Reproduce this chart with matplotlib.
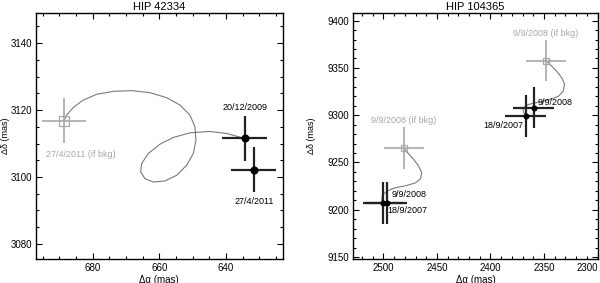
import matplotlib
matplotlib.use("Agg")
import matplotlib.pyplot as plt
from matplotlib.ticker import MultipleLocator

plt.rcParams['font.family'] = ['Liberation Sans', 'DejaVu Sans']

# HIP 42334
l_titre = "HIP 42334"
l_obs_dates = ["20/12/2009", "27/4/2011"]
l_obs_ra = [634.3, 631.6]
l_obs_dec = [3111.5, 3102.2]
l_obs_err_ra = [6.75, 6.75]
l_obs_err_dec = [6.75, 6.75]
l_bkg_date = "27/4/2011 (if bkg)"
l_bkg_ra = 688.6
l_bkg_dec = 3116.8
l_bkg_err_ra = 6.6
l_bkg_err_dec = 6.75
l_track_ra = [634.3, 639.8, 644.8, 650.8, 655.8, 659.8, 663.3, 665.3, 665.6, 664.3,
              661.8, 658.3, 654.8, 651.8, 649.8, 649.0, 649.3, 650.8, 653.8, 657.8,
              662.8, 668.3, 673.8, 678.8, 682.8, 685.8, 687.8, 688.6]
l_track_dec = [3111.5, 3113.0, 3113.6, 3113.2, 3111.8, 3109.8, 3107.0, 3104.0, 3101.5, 3099.5,
               3098.5, 3098.8, 3100.5, 3103.5, 3107.0, 3111.0, 3115.0, 3118.5, 3121.5, 3123.7,
               3125.2, 3125.8, 3125.6, 3124.7, 3123.0, 3120.8, 3118.5, 3116.8]

# HIP 104365 (deux candidats)
r_titre = "HIP 104365"
r_obs_dates = ["18/9/2007", "9/9/2008", "18/9/2007", "9/9/2008"]
r_obs_ra = [2500.3, 2497.0, 2367.0, 2359.6]
r_obs_dec = [9206.9, 9207.2, 9299.4, 9308.1]
r_obs_err_ra = [19.0, 19.0, 19.0, 19.0]
r_obs_err_dec = [22.0, 22.0, 22.0, 22.0]
r_bkg_dates = ["9/9/2008 (if bkg)", "9/9/2008 (if bkg)"]
r_bkg_ra = [2481.1, 2348.1]
r_bkg_dec = [9265.6, 9357.7]
r_bkg_err_ra = [18.7, 18.7]
r_bkg_err_dec = [22.0, 22.0]
r_track1_ra = [2500.3, 2501.5, 2501.2, 2496.8, 2489.1, 2478.8, 2469.9, 2465.3, 2464.3,
               2467.1, 2471.8, 2477.4, 2481.1]
r_track1_dec = [9206.9, 9210.3, 9214.6, 9219.8, 9223.2, 9225.5, 9228.5, 9232.9, 9239.2,
                9246.2, 9253.3, 9260.3, 9265.6]
r_track2_ra = [2367.0, 2369.3, 2369.3, 2364.6, 2355.3, 2344.3, 2336.6, 2332.2, 2330.8,
               2333.4, 2338.1, 2344.3, 2348.1]
r_track2_dec = [9299.4, 9303.2, 9307.8, 9311.3, 9313.7, 9316.6, 9320.0, 9325.3, 9332.4,
                9339.5, 9346.4, 9353.5, 9357.7]

GRIS_TRACE = "#7a7a7a"
GRIS_BKG = "#a8a8a8"
PT = 0.72  # 1 pixel en points (dpi 100)


def style_axes(ax, xmaj, xmin, ymaj, ymin, ypad):
    ax.xaxis.set_major_locator(MultipleLocator(xmaj))
    ax.xaxis.set_minor_locator(MultipleLocator(xmin))
    ax.yaxis.set_major_locator(MultipleLocator(ymaj))
    ax.yaxis.set_minor_locator(MultipleLocator(ymin))
    ax.tick_params(which='both', direction='in', top=True, right=True, labelsize=7, pad=3)
    ax.tick_params(which='major', length=4, width=0.8)
    ax.tick_params(which='minor', length=2.5, width=0.8)
    for s in ax.spines.values():
        s.set_linewidth(1.0)
    ax.set_xlabel("Δα (mas)", fontsize=7, labelpad=1)
    ax.set_ylabel("Δδ (mas)", fontsize=6.5, labelpad=ypad)


fig = plt.figure(figsize=(6.0, 2.83), dpi=100)

# ---- panneau gauche
ax1 = fig.add_axes([0.06, 0.085, 0.411, 0.869])
ax1.plot(l_track_ra, l_track_dec, color=GRIS_TRACE, lw=0.8)
ax1.errorbar([l_bkg_ra], [l_bkg_dec], xerr=[l_bkg_err_ra], yerr=[l_bkg_err_dec],
             fmt='s', ms=7.5, mfc='none', mec=GRIS_BKG, mew=0.9,
             ecolor=GRIS_BKG, elinewidth=1.2, capsize=0)
ax1.errorbar(l_obs_ra, l_obs_dec, xerr=l_obs_err_ra, yerr=l_obs_err_dec,
             fmt='o', ms=4.8, color='black', ecolor='#222222', elinewidth=1.6, capsize=0)
ax1.annotate(l_obs_dates[0], (l_obs_ra[0], l_obs_dec[0]), xytext=(0, 31 * PT),
             textcoords='offset points', ha='center', va='center', fontsize=6.5)
ax1.annotate(l_obs_dates[1], (l_obs_ra[1], l_obs_dec[1]), xytext=(0, -31.4 * PT),
             textcoords='offset points', ha='center', va='center', fontsize=6.5)
ax1.annotate(l_bkg_date, (l_bkg_ra, l_bkg_dec), xytext=(17.3 * PT, -33.3 * PT),
             textcoords='offset points', ha='center', va='center', fontsize=6.5,
             color=GRIS_BKG)
ax1.set_xlim(697, 623)
ax1.set_ylim(3075.5, 3149)
style_axes(ax1, 20, 5, 20, 5, 0)
ax1.set_title(l_titre, fontsize=8, pad=2)

# ---- panneau droit
ax2 = fig.add_axes([0.589, 0.085, 0.407, 0.869])
ax2.plot(r_track1_ra, r_track1_dec, color=GRIS_TRACE, lw=0.8)
ax2.plot(r_track2_ra, r_track2_dec, color=GRIS_TRACE, lw=0.8)
ax2.errorbar(r_bkg_ra, r_bkg_dec, xerr=r_bkg_err_ra, yerr=r_bkg_err_dec,
             fmt='s', ms=3.8, mfc='none', mec=GRIS_BKG, mew=0.9,
             ecolor=GRIS_BKG, elinewidth=1.2, capsize=0)
ax2.errorbar(r_obs_ra, r_obs_dec, xerr=r_obs_err_ra, yerr=r_obs_err_dec,
             fmt='o', ms=3.3, color='black', ecolor='#222222', elinewidth=1.6, capsize=0)

# décalages des étiquettes (pixels)
r_offsets = [(4.7, -7.7, 'left'), (5.2, 8.0, 'left'), (-2.4, -9.7, 'right'), (3.6, 5.3, 'left')]
for d, x, y, (dx, dy, ha) in zip(r_obs_dates, r_obs_ra, r_obs_dec, r_offsets):
    ax2.annotate(d, (x, y), xytext=(dx * PT, dy * PT), textcoords='offset points',
                 ha=ha, va='center', fontsize=6.5)
for d, x, y in zip(r_bkg_dates, r_bkg_ra, r_bkg_dec):
    ax2.annotate(d, (x, y), xytext=(0, 27 * PT), textcoords='offset points',
                 ha='center', va='center', fontsize=6.5, color=GRIS_BKG)
ax2.set_xlim(2528, 2300)
ax2.set_ylim(9148, 9408)
style_axes(ax2, 50, 10, 50, 10, 8)
ax2.set_title(r_titre, fontsize=8, pad=2)
fig.canvas.draw()
for lab in ax2.get_xticklabels():
    if lab.get_text() == '2300':
        lab.set_ha('right')

fig.savefig("out.png", dpi=100)
